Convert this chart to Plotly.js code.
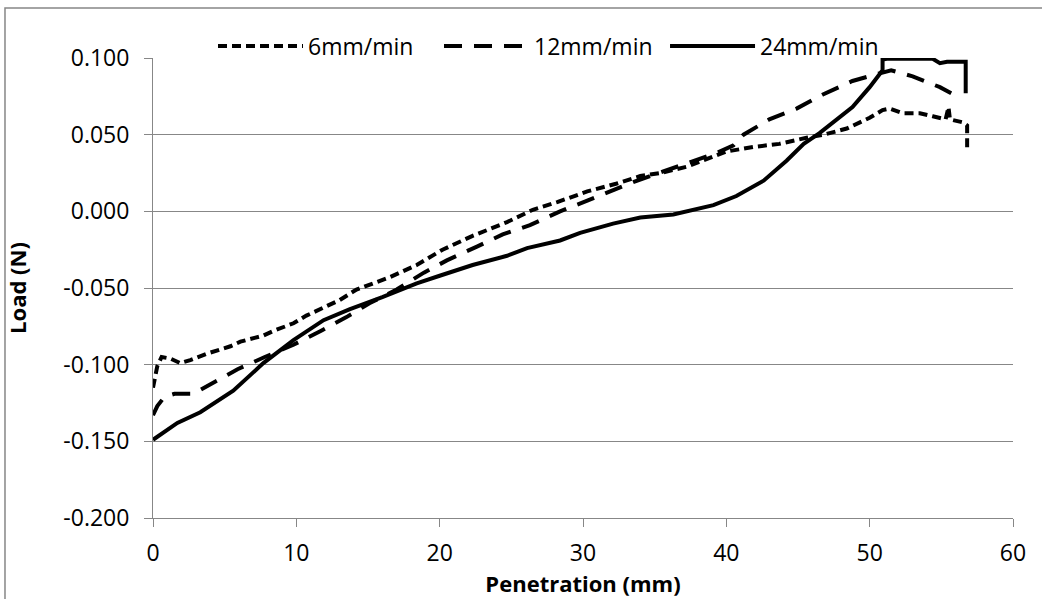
<!DOCTYPE html>
<html>
<head>
<meta charset="utf-8">
<script src="https://cdn.plot.ly/plotly-3.0.1.min.js"></script>
<style>html,body{margin:0;padding:0;background:#fff;}#chart{width:1042px;height:599px;}</style>
</head>
<body>
<div id="chart"></div>
<script>
// Series names
const seriesNames = ["6mm/min", "12mm/min", "24mm/min"];

// 6mm/min
const x6 = [0, 0.3, 0.6, 1.2, 1.9, 2.6, 3.7, 5.4, 6.1, 7.7, 8.4, 9.8, 10.7, 11.9, 13.0, 14.2, 16.5, 18.4, 20.2, 22.3, 24.7, 26.5, 28.2, 30.3, 32.3, 34.0, 35.4, 37.2, 39.1, 40.0, 41.9, 43.7, 45.6, 46.8, 48.4, 50.0, 50.9, 51.4, 52.3, 53.5, 54.4, 55.3, 55.5, 55.6, 56.5, 56.8, 56.8];
const y6 = [-0.115, -0.101, -0.095, -0.096, -0.099, -0.097, -0.093, -0.088, -0.085, -0.081, -0.078, -0.073, -0.068, -0.063, -0.058, -0.051, -0.043, -0.035, -0.025, -0.016, -0.007, 0.001, 0.006, 0.013, 0.018, 0.023, 0.025, 0.029, 0.036, 0.039, 0.042, 0.044, 0.048, 0.050, 0.054, 0.061, 0.066, 0.067, 0.064, 0.064, 0.062, 0.060, 0.068, 0.060, 0.058, 0.056, 0.041];

// 12mm/min
const x12 = [0, 0.3, 0.8, 1.5, 2.8, 4.1, 5.9, 7.8, 9.8, 11.7, 13.5, 15.1, 17.0, 18.9, 20.5, 22.6, 24.4, 26.3, 28.4, 30.3, 32.1, 33.5, 35.6, 37.5, 39.3, 40.5, 41.2, 43.0, 44.9, 46.7, 48.8, 50.7, 51.5, 53.0, 54.9, 55.7];
const y12 = [-0.133, -0.127, -0.121, -0.119, -0.119, -0.112, -0.103, -0.095, -0.087, -0.078, -0.069, -0.060, -0.051, -0.040, -0.032, -0.023, -0.015, -0.009, 0.000, 0.007, 0.014, 0.019, 0.026, 0.032, 0.038, 0.043, 0.050, 0.060, 0.067, 0.076, 0.085, 0.090, 0.092, 0.088, 0.081, 0.077];

// 24mm/min
const x24 = [0, 1.7, 3.3, 5.6, 7.7, 9.8, 11.9, 13.7, 16.0, 18.4, 20.0, 22.3, 24.7, 26.1, 28.4, 29.8, 32.1, 34.0, 36.3, 37.7, 39.1, 40.7, 42.6, 44.2, 45.4, 46.5, 47.7, 48.8, 50.0, 50.7, 50.9, 50.9, 51.2, 54.4, 54.9, 55.4, 56.7, 56.7];
const y24 = [-0.149, -0.138, -0.131, -0.117, -0.099, -0.084, -0.071, -0.064, -0.056, -0.047, -0.042, -0.035, -0.029, -0.024, -0.019, -0.014, -0.008, -0.004, -0.002, 0.001, 0.004, 0.010, 0.020, 0.033, 0.044, 0.051, 0.060, 0.068, 0.081, 0.090, 0.092, 0.099, 0.0995, 0.0995, 0.0966, 0.0976, 0.0976, 0.077];

// Tick labels
const yTickVals = [-0.2, -0.15, -0.1, -0.05, 0, 0.05, 0.1];
const yTickText = ["-0.200", "-0.150", "-0.100", "-0.050", "0.000", "0.050", "0.100"];
const xTickVals = [0, 10, 20, 30, 40, 50, 60];
const xTickText = ["0", "10", "20", "30", "40", "50", "60"];

const FONT = "Open Sans, Noto Sans, sans-serif";
const grid = "#878787";

const traces = [
  {x: x6, y: y6, name: seriesNames[0], mode: "lines", line: {color: "#000", width: 4, dash: "9px,5px"}},
  {x: x12, y: y12, name: seriesNames[1], mode: "lines", line: {color: "#000", width: 4, dash: "18px,12px"}},
  {x: x24, y: y24, name: seriesNames[2], mode: "lines", line: {color: "#000", width: 4}}
];

const layout = {
  width: 1042, height: 599,
  margin: {l: 153, r: 29, t: 58, b: 81},
  paper_bgcolor: "#fff", plot_bgcolor: "#fff",
  font: {family: FONT, size: 23, color: "#000"},
  showlegend: true,
  legend: {orientation: "h", x: 0.0698, xanchor: "left", y: 1.026, yanchor: "middle",
           font: {family: FONT, size: 23, color: "#000"}, itemwidth: 85, entrywidth: 126,
           bgcolor: "rgba(0,0,0,0)"},
  xaxis: {
    range: [0, 60], tickvals: xTickVals, ticktext: xTickText,
    showgrid: false, zeroline: false, showline: true, linecolor: grid, linewidth: 1,
    ticks: "outside", ticklen: 8, tickcolor: grid, tickwidth: 1, ticklabelstandoff: 6,
    tickfont: {family: FONT, size: 23, color: "#000"},
    title: {text: "<b>Penetration (mm)</b>", font: {family: FONT, size: 22, color: "#000"}, standoff: 1}
  },
  yaxis: {
    range: [-0.2, 0.1], tickvals: yTickVals, ticktext: yTickText,
    showgrid: true, gridcolor: grid, gridwidth: 1, zeroline: false,
    showline: true, linecolor: grid, linewidth: 1,
    ticks: "outside", ticklen: 8, tickcolor: grid, tickwidth: 1, ticklabelstandoff: 10,
    tickfont: {family: FONT, size: 23, color: "#000"},
    title: {text: "<b>Load (N)</b>", font: {family: FONT, size: 22, color: "#000"}, standoff: 30}
  },
  shapes: [
    {type: "rect", xref: "paper", yref: "paper", x0: -0.1721, x1: 1.04, y0: -0.19, y1: 1.1087,
     line: {color: grid, width: 1.5}, fillcolor: "rgba(0,0,0,0)", layer: "below"}
  ]
};

Plotly.newPlot("chart", traces, layout, {displayModeBar: false, staticPlot: true});
</script>
</body>
</html>
